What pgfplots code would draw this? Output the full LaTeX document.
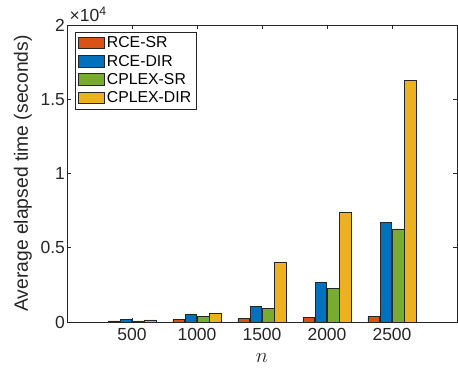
\documentclass[border=0pt]{standalone}
\usepackage{pgfplots}
\pgfplotsset{compat=1.18}
\usepackage{fontspec}
\setmainfont{Liberation Sans}
\definecolor{mblue}{rgb}{0,0.447,0.741}
\definecolor{morange}{rgb}{0.85,0.325,0.098}
\definecolor{myellow}{rgb}{0.929,0.694,0.125}
\definecolor{mgreen}{rgb}{0.466,0.674,0.188}
\definecolor{axgray}{rgb}{0.15,0.15,0.15}
\begin{document}
\begin{tikzpicture}
\begin{axis}[
  scale only axis,
  width=390pt, height=297pt,
  xmin=0, xmax=3000, ymin=0, ymax=20000,
  scaled y ticks=false, scaled x ticks=false,
  clip=false,
  ybar=0.6pt, bar width=89,
  xtick={500,1000,1500,2000,2500},
  xticklabels={500,1000,1500,2000,2500},
  ytick={0,5000,10000,15000,20000},
  yticklabels={0,0.5,1,1.5,2},
  /pgf/number format/assume math mode=true,
  tick align=inside,
  major tick length=3.9pt,
  axis line style={axgray, line width=0.7pt},
  every tick/.style={axgray, line width=0.7pt},
  tick label style={font=\fontsize{17.5}{20}\selectfont, text=axgray},
  xticklabel style={yshift=-3pt},
  yticklabel style={xshift=1.5pt},
  ylabel={Average elapsed time (seconds)},
  ylabel style={at={(axis description cs:-0.113,0.5)}, anchor=center, font=\fontsize{19.3}{22}\selectfont, text=axgray},
  xlabel={$n$},
  xlabel style={at={(axis description cs:0.5,-0.121)}, anchor=center, font=\fontsize{19.3}{22}\selectfont, text=axgray},
  legend style={at={(axis description cs:0,1)}, anchor=north west, xshift=8pt, yshift=-7pt,
    draw=axgray, line width=0.6pt, font=\fontsize{15.8}{18}\selectfont, text=black,
    inner xsep=3pt, inner ysep=2.5pt, row sep=1.8pt},
  legend cell align=left,
  legend image code/.code={\draw[#1, draw=axgray, line width=0.6pt] (0pt,-5.5pt) rectangle (26pt,6pt);},
  every axis plot/.append style={draw=axgray, line width=0.6pt},
]
\addplot[fill=morange] coordinates {(500,70) (1000,155) (1500,220) (2000,310) (2500,360)};
\addplot[fill=mblue] coordinates {(500,155) (1000,490) (1500,1070) (2000,2680) (2500,6700)};
\addplot[fill=mgreen] coordinates {(500,70) (1000,355) (1500,940) (2000,2280) (2500,6275)};
\addplot[fill=myellow] coordinates {(500,135) (1000,605) (1500,4030) (2000,7370) (2500,16280)};
\legend{RCE-SR,RCE-DIR,CPLEX-SR,CPLEX-DIR}
\end{axis}
\node[anchor=base west, font=\fontsize{17.5}{20}\selectfont, text=axgray, inner sep=0pt] at ([shift={(2.5pt,3.3pt)}]current axis.north west) {×10\textsuperscript{4}};
\path[use as bounding box] ([shift={(-67pt,-53pt)}]current axis.south west) rectangle ([shift={(1pt,25pt)}]current axis.north east);
\end{tikzpicture}
\end{document}
